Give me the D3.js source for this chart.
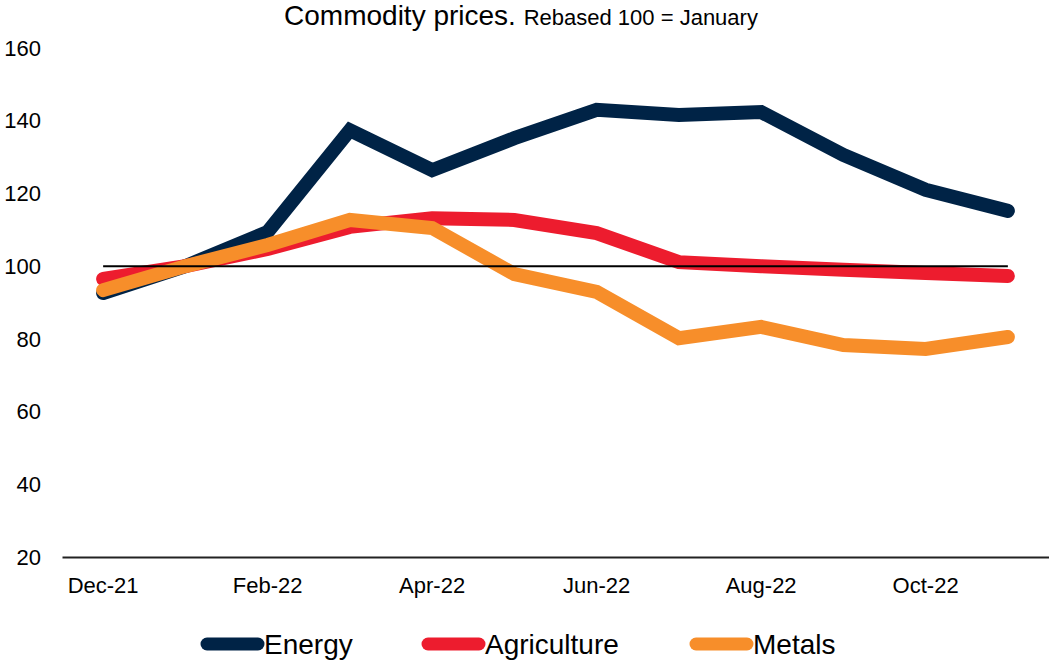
<!DOCTYPE html>
<html>
<head>
<meta charset="utf-8">
<script src="https://cdn.jsdelivr.net/npm/d3@7"></script>
<style>
  body { margin: 0; background: #fff; }
  svg { font-family: "Liberation Sans", Arial, sans-serif; }
</style>
</head>
<body>
<div id="chart"></div>
<script>
'use strict';

// months on the x axis
const months = ['Dec-21', 'Jan-22', 'Feb-22', 'Mar-22', 'Apr-22', 'May-22', 'Jun-22',
                'Jul-22', 'Aug-22', 'Sep-22', 'Oct-22', 'Nov-22'];
const tickLabels = ['Dec-21', 'Feb-22', 'Apr-22', 'Jun-22', 'Aug-22', 'Oct-22'];
const yTicks = [20, 40, 60, 80, 100, 120, 140, 160];

// rebased series, 100 = January
const energy      = [92.6, 100, 109.4, 137.4, 126.4, 135.2, 143.0, 141.6, 142.4, 130.6, 121.0, 115.2];
const agriculture = [96.5, 100, 104.7, 110.8, 113.2, 112.7, 109.1, 101.1, 100.0, 99.0, 98.1, 97.3];
const metals      = [93.4, 100, 105.8, 112.7, 110.5, 97.8, 92.9, 80.2, 83.3, 78.3, 77.2, 80.5];

const seriesNames  = ['Energy', 'Agriculture', 'Metals'];
const seriesColors = ['#002346', '#ED1C2E', '#F78E2A'];
const allSeries = [energy, agriculture, metals];

const width = 1049, height = 664;
const margin = {top: 48, right: 0, bottom: 107, left: 62};

const svg = d3.select('#chart').append('svg')
  .attr('width', width).attr('height', height);

//scales
let x = d3.scaleBand().domain(months).range([margin.left, width - margin.right]);
let y = d3.scaleLinear().domain([20, 160]).range([height - margin.bottom, margin.top]);
const cx = m => x(m) + x.bandwidth() / 2;

// title
const title = svg.append('text')
  .attr('x', 521).attr('y', 25)
  .attr('text-anchor', 'middle')
  .attr('fill', '#000');
title.append('tspan').attr('font-size', 28).text('Commodity prices. ');
title.append('tspan').attr('font-size', 22).text('Rebased 100 = January');

// y axis labels (no axis line)
svg.append('g').selectAll('text')
  .data(yTicks)
  .join('text')
  .attr('x', 41)
  .attr('y', d => y(d))
  .attr('dy', '0.35em')
  .attr('text-anchor', 'end')
  .attr('font-size', 22)
  .attr('fill', '#000')
  .text(d => d);

// x axis
const xAxis = svg.append('g')
  .attr('transform', `translate(0,${y(20)})`)
  .call(d3.axisBottom(x).tickValues(tickLabels).tickSize(0).tickPadding(20));
xAxis.select('.domain').attr('stroke', '#222').attr('stroke-width', 2);
xAxis.selectAll('text')
  .attr('font-size', 22)
  .attr('fill', '#000')
  .attr('font-family', '"Liberation Sans", Arial, sans-serif');

// lines
let line = d3.line()
  .x((d, i) => cx(months[i]))
  .y(d => y(d));

svg.append('g').selectAll('path')
  .data(allSeries)
  .join('path')
  .attr('fill', 'none')
  .attr('stroke', (d, i) => seriesColors[i])
  .attr('stroke-width', 14)
  .attr('stroke-linecap', 'round')
  .attr('stroke-linejoin', 'miter')
  .attr('d', d => line(d));

// reference line at 100
svg.append('line')
  .attr('x1', cx(months[0])).attr('x2', cx(months[months.length - 1]))
  .attr('y1', y(100)).attr('y2', y(100))
  .attr('stroke', '#000').attr('stroke-width', 2);

// legend
const legendX = [207, 428, 696];
const legend = svg.append('g').selectAll('g')
  .data(seriesNames)
  .join('g')
  .attr('transform', (d, i) => `translate(${legendX[i]},644)`);
legend.append('line')
  .attr('x1', 0).attr('x2', 51)
  .attr('stroke', (d, i) => seriesColors[i])
  .attr('stroke-width', 13)
  .attr('stroke-linecap', 'round');
legend.append('text')
  .attr('x', 57)
  .attr('dy', '0.35em')
  .attr('font-size', 28)
  .attr('fill', '#000')
  .text(d => d);
</script>
</body>
</html>
